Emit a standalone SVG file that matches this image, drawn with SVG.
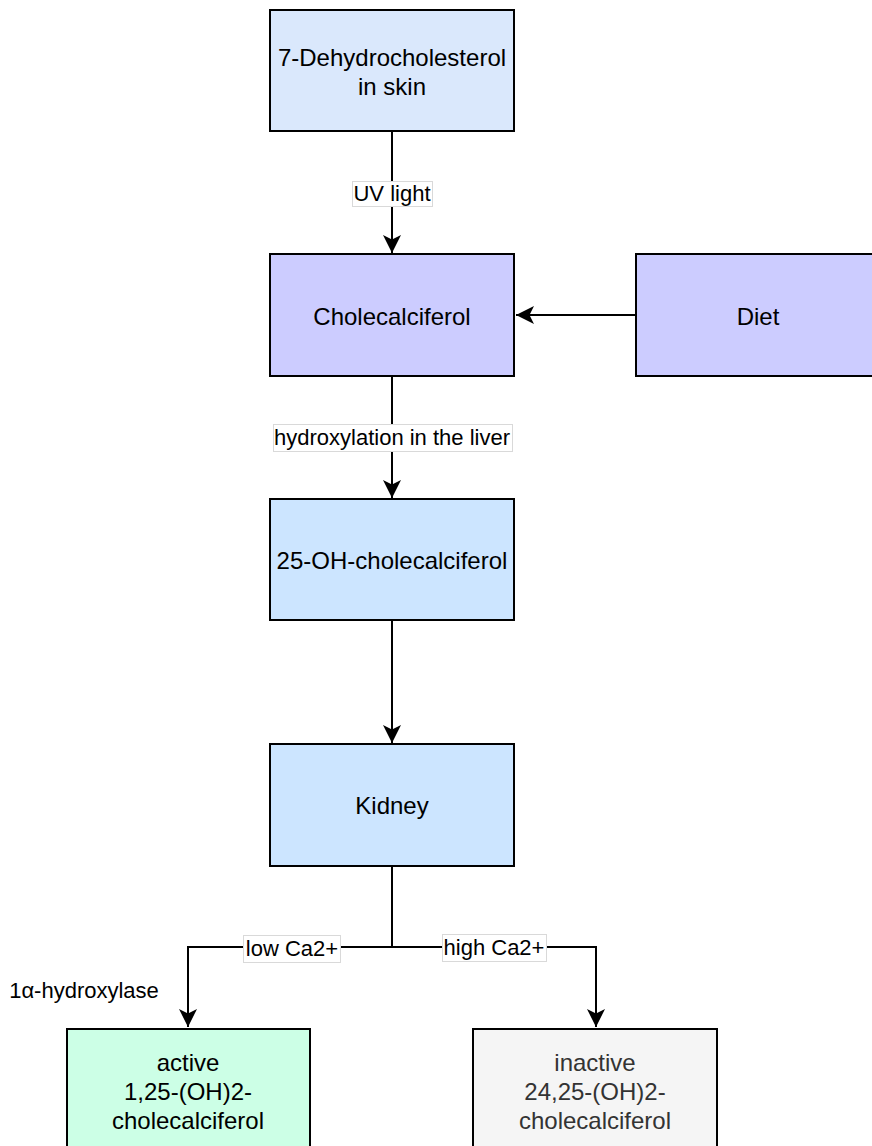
<svg xmlns="http://www.w3.org/2000/svg" width="872" height="1146" viewBox="0 0 872 1146">
  <style>
    .box { stroke: #000000; stroke-width: 2; }
    .txt { font-family: "Liberation Sans", Arial, Helvetica, sans-serif; font-size: 24px; fill: #000000; text-anchor: middle; }
    .lbl { font-family: "Liberation Sans", Arial, Helvetica, sans-serif; font-size: 22px; fill: #000000; text-anchor: middle; }
    .lblbg { fill: #ffffff; stroke: #d9d9d9; stroke-width: 1; }
    .edge { fill: none; stroke: #000000; stroke-width: 2; }
  </style>
  <defs>
    <marker id="arrow" markerWidth="20" markerHeight="20" viewBox="0 0 20 20" refX="18" refY="10" orient="auto" markerUnits="userSpaceOnUse">
      <path d="M18,10 L0,1 L4.5,10 L0,19 Z" fill="#000000"/>
    </marker>
  </defs>

  <rect width="872" height="1146" fill="#ffffff"/>

  <!-- connectors -->
  <g id="connectors">
    <path class="edge" d="M392,131 L392,253" marker-end="url(#arrow)"/>
    <path class="edge" d="M636,315 L516,315" marker-end="url(#arrow)"/>
    <path class="edge" d="M392,376 L392,498" marker-end="url(#arrow)"/>
    <path class="edge" d="M392,620 L392,743" marker-end="url(#arrow)"/>
    <path class="edge" d="M392,866 L392,947 L188,947 L188,1027" marker-end="url(#arrow)"/>
    <path class="edge" d="M392,947 L596,947 L596,1027" marker-end="url(#arrow)"/>

    <g id="label-uv">
      <rect class="lblbg" x="352.5" y="181.5" width="80" height="25"/>
      <text class="lbl" x="392" y="201">UV light</text>
    </g>
    <g id="label-liver">
      <rect class="lblbg" x="273.5" y="424.5" width="239" height="27"/>
      <text class="lbl" x="392" y="445">hydroxylation in the liver</text>
    </g>
    <g id="label-low">
      <rect class="lblbg" x="243.5" y="935.5" width="97" height="27"/>
      <text class="lbl" x="292" y="956">low Ca2+</text>
    </g>
    <g id="label-high">
      <rect class="lblbg" x="442.5" y="934.5" width="104" height="27"/>
      <text class="lbl" x="494" y="955">high Ca2+</text>
    </g>
  </g>

  <!-- nodes -->
  <g id="dehydrocholesterol">
    <rect class="box" x="270" y="10" width="244" height="121" fill="#dae8fc"/>
    <text class="txt" x="392" y="66">7-Dehydrocholesterol</text>
    <text class="txt" x="392" y="95">in skin</text>
  </g>

  <g id="cholecalciferol">
    <rect class="box" x="270" y="254" width="244" height="122" fill="#ccccff"/>
    <text class="txt" x="392" y="325">Cholecalciferol</text>
  </g>

  <g id="diet">
    <rect class="box" x="636" y="254" width="244" height="122" fill="#ccccff"/>
    <text class="txt" x="758" y="325">Diet</text>
  </g>

  <g id="hydroxycholecalciferol">
    <rect class="box" x="270" y="499" width="244" height="121" fill="#cce5ff"/>
    <text class="txt" x="392" y="569">25-OH-cholecalciferol</text>
  </g>

  <g id="kidney">
    <rect class="box" x="270" y="744" width="244" height="122" fill="#cce5ff"/>
    <text class="txt" x="392" y="814">Kidney</text>
  </g>

  <g id="hydroxylase-note">
    <text class="lbl" x="84" y="998">1α-hydroxylase</text>
  </g>

  <g id="active">
    <rect class="box" x="67" y="1029" width="243" height="122" fill="#ccffe6"/>
    <text class="txt" x="188" y="1071">active</text>
    <text class="txt" x="188" y="1100">1,25-(OH)2-</text>
    <text class="txt" x="188" y="1129">cholecalciferol</text>
  </g>

  <g id="inactive">
    <rect class="box" x="473" y="1029" width="244" height="122" fill="#f5f5f5"/>
    <text class="txt" x="595" y="1071" fill="#333333" style="fill:#333333">inactive</text>
    <text class="txt" x="595" y="1100" style="fill:#333333">24,25-(OH)2-</text>
    <text class="txt" x="595" y="1129" style="fill:#333333">cholecalciferol</text>
  </g>
</svg>
